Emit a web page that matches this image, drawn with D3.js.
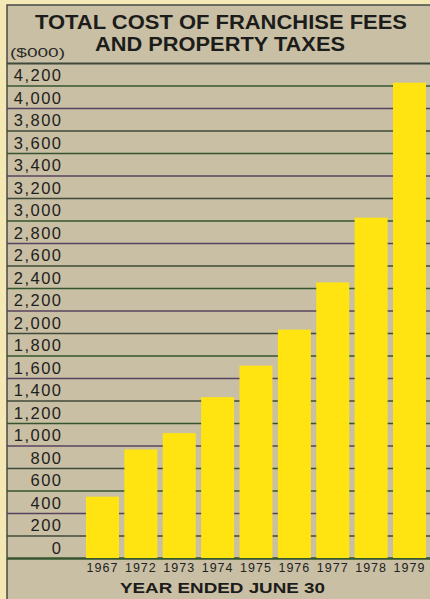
<!DOCTYPE html>
<html>
<head>
<meta charset="utf-8">
<script src="https://cdn.jsdelivr.net/npm/d3@7"></script>
<style>
  html, body { margin: 0; padding: 0; background: #f4e8b4; }
  svg { display: block; }
  .num { font-family: "Liberation Sans", Arial, sans-serif; }
  .bold { font-family: "Liberation Sans", Arial, sans-serif; font-weight: bold; }
</style>
</head>
<body>
<svg id="chart"></svg>
<script>
// values in $000
const years = ["1967", "1972", "1973", "1974", "1975", "1976", "1977", "1978", "1979"];
const costs = [545, 965, 1110, 1430, 1710, 2030, 2450, 3025, 4225];
const yTicks = [0, 200, 400, 600, 800, 1000, 1200, 1400, 1600, 1800, 2000,
  2200, 2400, 2600, 2800, 3000, 3200, 3400, 3600, 3800, 4000, 4200];
const yTop = 4400;
const titleLines = ["TOTAL COST OF FRANCHISE FEES", "AND PROPERTY TAXES"];
const unitLabel = "($000)";
const xTitle = "YEAR ENDED JUNE 30";

const svgWidth = 430, svgHeight = 599;
const panel = { left: 7, top: 5 };
const plot = { left: 86, right: 426, top: 63, bottom: 558 };

const svg = d3.select("#chart").attr("width", svgWidth).attr("height", svgHeight);

// paper panel
svg.append("rect")
  .attr("x", panel.left).attr("y", panel.top)
  .attr("width", svgWidth - panel.left).attr("height", svgHeight - panel.top)
  .attr("fill", "#c9bfa4");
svg.append("path")
  .attr("d", `M${panel.left},${svgHeight}V${panel.top}H${svgWidth}`)
  .attr("fill", "none").attr("stroke", "#4a4a48").attr("stroke-width", 1.5);

const x = d3.scaleBand().domain(years).range([plot.left, plot.right])
  .paddingInner(0.14).paddingOuter(0);
const y = d3.scaleLinear().domain([0, yTop]).range([plot.bottom, plot.top]);

// horizontal rules (behind bars)
const lineColors = ["#34552f", "#3f4a3a", "#574360"];
const grid = svg.append("g")
  .attr("transform", `translate(${panel.left},0)`)
  .call(d3.axisRight(y).tickValues(yTicks.concat([yTop])).tickSize(svgWidth - panel.left).tickFormat(""));
grid.select(".domain").remove();
grid.selectAll(".tick line")
  .attr("stroke", (d, i) => lineColors[i % 3])
  .attr("stroke-width", d => d === 0 ? 2.5 : (d === yTop ? 2 : 1.6));

// bars
svg.append("g").selectAll("rect")
  .data(years)
  .join("rect")
  .attr("x", d => x(d))
  .attr("width", x.bandwidth())
  .attr("y", (d, i) => y(costs[i]))
  .attr("height", (d, i) => y(0) - y(costs[i]))
  .attr("fill", "#ffe412");

// y labels, sitting just above their rule
const yAxis = svg.append("g")
  .attr("transform", "translate(62.5,0)")
  .call(d3.axisLeft(y).tickValues(yTicks).tickSize(0).tickPadding(0).tickFormat(d3.format(",")));
yAxis.attr("font-family", null).attr("font-size", null);
yAxis.select(".domain").remove();
yAxis.selectAll("text")
  .attr("class", "num")
  .attr("dy", null).attr("y", -5)
  .style("font-size", "16.5px")
  .style("letter-spacing", "1.5px")
  .attr("fill", "#1f211c");

// x labels
const xAxis = svg.append("g")
  .attr("transform", `translate(0,${plot.bottom})`)
  .call(d3.axisBottom(x).tickSize(0).tickPadding(5));
xAxis.attr("font-family", null).attr("font-size", null);
xAxis.select(".domain").remove();
xAxis.selectAll("text")
  .attr("class", "num")
  .style("font-size", "12.5px")
  .style("letter-spacing", "1px")
  .attr("fill", "#222");

// titles
svg.append("text")
  .attr("class", "bold")
  .attr("x", 221).attr("y", 28.5)
  .attr("text-anchor", "middle")
  .style("font-size", "20.5px")
  .attr("textLength", 372).attr("lengthAdjust", "spacingAndGlyphs")
  .attr("fill", "#1c1c1a")
  .text(titleLines[0]);
svg.append("text")
  .attr("class", "bold")
  .attr("x", 220).attr("y", 50.5)
  .attr("text-anchor", "middle")
  .style("font-size", "20.5px")
  .attr("textLength", 250).attr("lengthAdjust", "spacingAndGlyphs")
  .attr("fill", "#1c1c1a")
  .text(titleLines[1]);

svg.append("text")
  .attr("class", "num")
  .attr("x", 10).attr("y", 57)
  .style("font-size", "13.5px")
  .attr("textLength", 55).attr("lengthAdjust", "spacingAndGlyphs")
  .attr("fill", "#2a2a28")
  .text(unitLabel);

svg.append("text")
  .attr("class", "bold")
  .attr("x", 222.5).attr("y", 592.5)
  .attr("text-anchor", "middle")
  .style("font-size", "15.5px")
  .attr("textLength", 205).attr("lengthAdjust", "spacingAndGlyphs")
  .attr("fill", "#1c1c1a")
  .text(xTitle);
</script>
</body>
</html>
